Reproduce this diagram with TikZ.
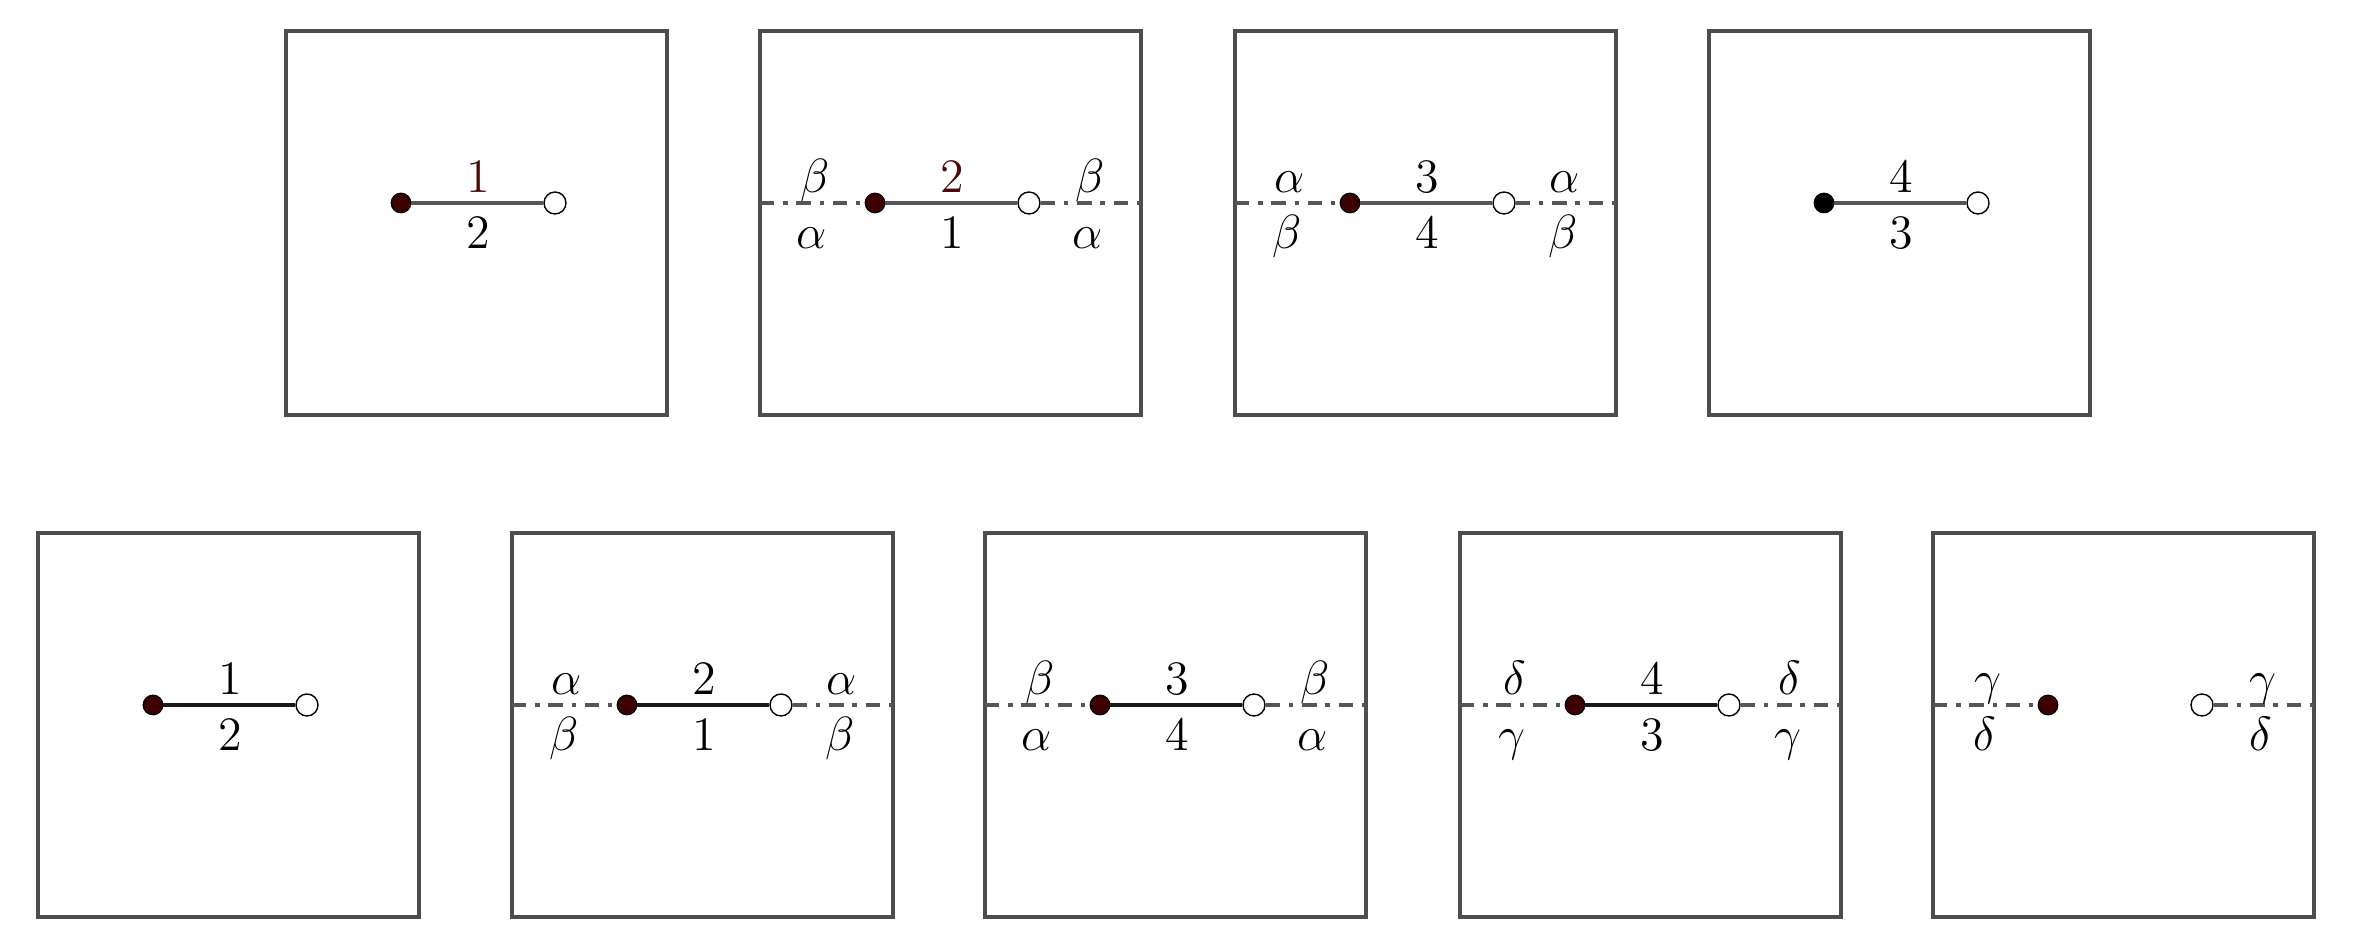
\documentclass[tikz,border=0pt]{standalone}
\definecolor{frameg}{HTML}{4D4D4D}
\definecolor{lineg}{HTML}{555555}
\definecolor{dotmar}{HTML}{3C0000}
\definecolor{labmar}{HTML}{4A0A0A}
\tikzset{
 frame/.style={draw=frameg, line width=1pt},
 segtop/.style={draw=lineg, line width=1.1pt},
 segbot/.style={draw=black!90, line width=1.1pt},
 dd/.style={draw=lineg, line width=1.1pt, dash pattern=on 3.6pt off 2.2pt on 1.1pt off 2.2pt},
 bdot/.style={circle, draw=black, line width=0.3pt, inner sep=0pt, minimum size=4.9pt},
 wdot/.style={circle, fill=white, draw=black, line width=0.35pt, inner sep=0pt, minimum size=5.5pt},
 lab/.style={anchor=base, inner sep=0pt, font=\fontsize{12}{14}\selectfont},
}
\newcommand{\pframe}[4]{%
 \begin{scope}[shift={(#2,#3)}]
 \draw[frame] (0,0) rectangle (381,384);
 \coordinate (#1L) at (0,172);
 \coordinate (#1R) at (381,172);
 \node[bdot, fill=#4] (#1b) at (115,172) {};
 \node[wdot] (#1w) at (269,172) {};
 \end{scope}}
\newcommand{\pmid}[6]{%
 \begin{scope}[shift={(#2,#3)}]
 \draw[#4] (#1b) -- (#1w);
 \node[lab] (#1u) at (192,162) {#5};
 \node[lab] (#1d) at (192,218) {#6};
 \end{scope}}
\newcommand{\pside}[5]{%
 \begin{scope}[shift={(#2,#3)}]
 \draw[dd] (#1L) -- (#1b);
 \draw[dd] (#1w) -- (#1R);
 \node[lab] (#1lu) at (55,162) {$#4$};
 \node[lab] (#1ld) at (52,218) {$#5$};
 \node[lab] (#1ru) at (330,162) {$#4$};
 \node[lab] (#1rd) at (328,218) {$#5$};
 \end{scope}}
\begin{document}
\begin{tikzpicture}[x=0.25pt, y=-0.25pt]
\useasboundingbox (0,0) rectangle (2355,948);
% top row
\pframe{A}{286}{31}{dotmar}
\pmid{A}{286}{31}{segtop}{\textcolor{labmar}{1}}{2}
\pframe{B}{760}{31}{dotmar}
\pside{B}{760}{31}{\beta}{\alpha}
\pmid{B}{760}{31}{segtop}{\textcolor{labmar}{2}}{1}
\pframe{C}{1235}{31}{dotmar}
\pside{C}{1235}{31}{\alpha}{\beta}
\pmid{C}{1235}{31}{segtop}{3}{4}
\pframe{D}{1709}{31}{black}
\pmid{D}{1709}{31}{segtop}{4}{3}
% bottom row
\pframe{E}{38}{533}{dotmar}
\pmid{E}{38}{533}{segbot}{1}{2}
\pframe{F}{512}{533}{dotmar}
\pside{F}{512}{533}{\alpha}{\beta}
\pmid{F}{512}{533}{segbot}{2}{1}
\pframe{G}{985}{533}{dotmar}
\pside{G}{985}{533}{\beta}{\alpha}
\pmid{G}{985}{533}{segbot}{3}{4}
\pframe{H}{1460}{533}{dotmar}
\pside{H}{1460}{533}{\delta}{\gamma}
\pmid{H}{1460}{533}{segbot}{4}{3}
\pframe{I}{1933}{533}{dotmar}
\pside{I}{1933}{533}{\gamma}{\delta}
\end{tikzpicture}
\end{document}
